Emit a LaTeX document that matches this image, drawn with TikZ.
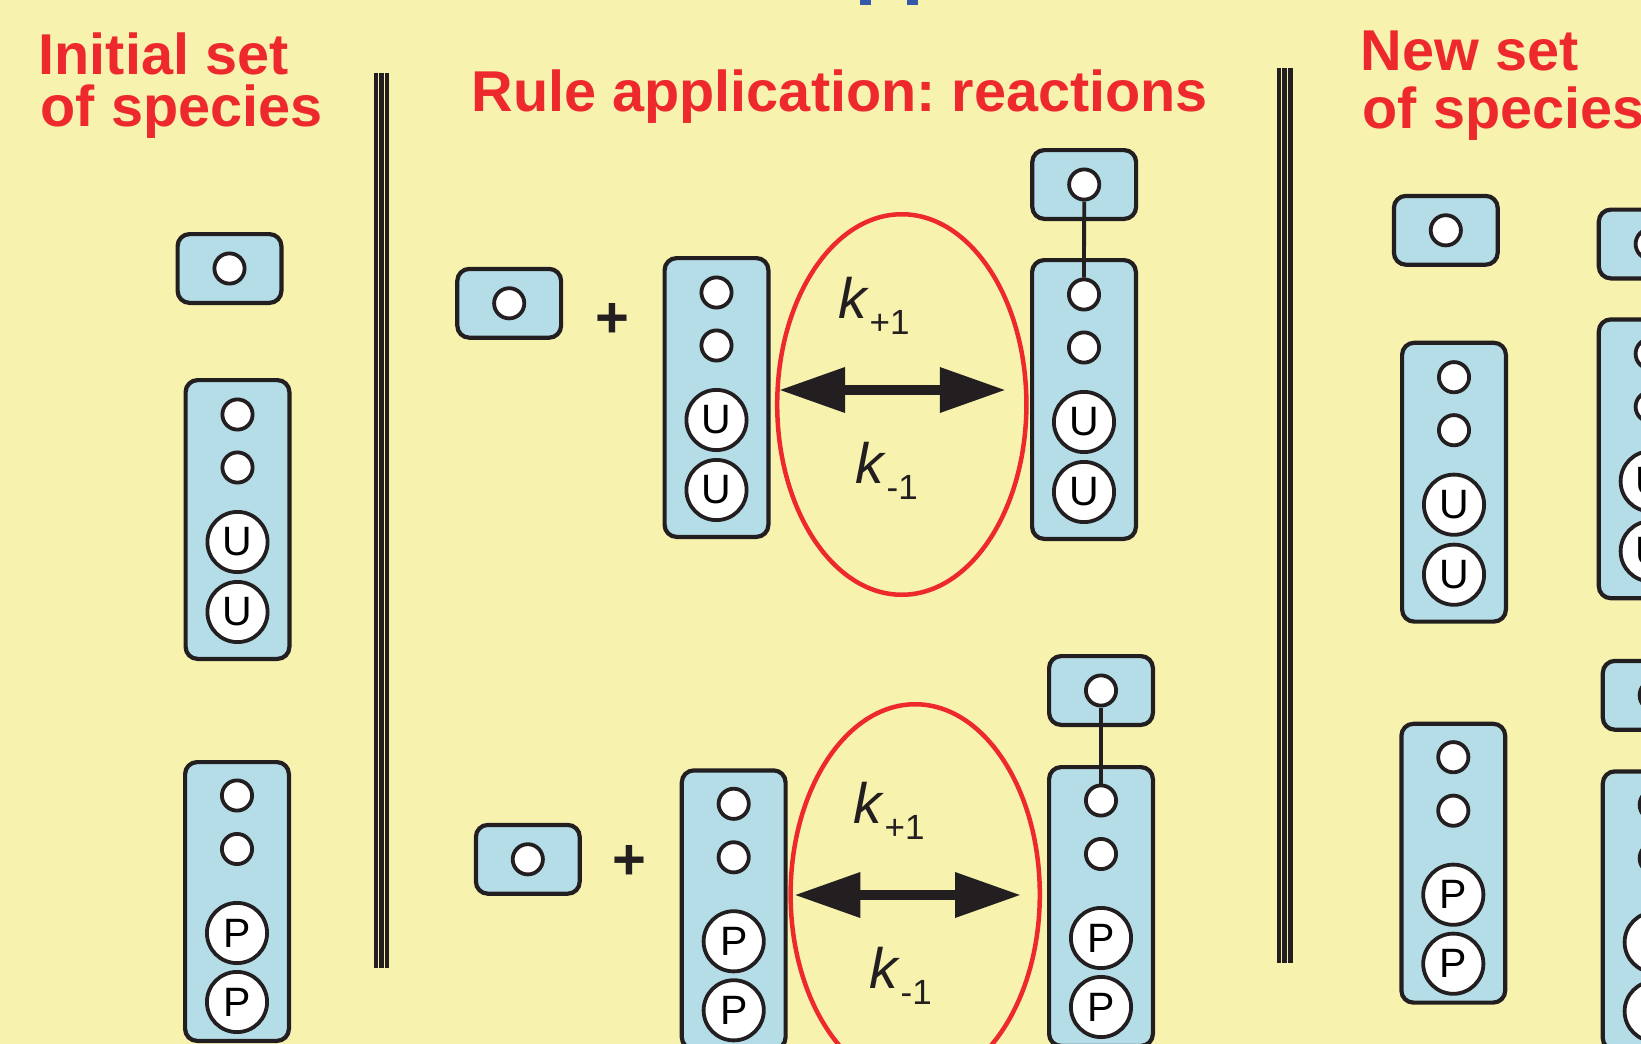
\documentclass[tikz,border=0pt]{standalone}
\usepackage{fontspec}
\setmainfont{Liberation Sans}
\usetikzlibrary{arrows.meta,shapes.geometric,positioning}
\definecolor{bgyellow}{HTML}{F7F2AE}
\definecolor{boxblue}{HTML}{B5DDE8}
\definecolor{titlered}{HTML}{ED292E}
\definecolor{inkblack}{HTML}{231F20}
\definecolor{titleblue}{HTML}{3558A8}
\frenchspacing
\newcommand\rateconst[1]{\textit{k}\raisebox{-16pt}{\fontsize{35}{35}\selectfont #1}}
\tikzset{every picture/.style={line width=3.5pt}}
\tikzset{
  box/.style={draw=inkblack, fill=boxblue, line width=4.2pt, rounded corners=12pt, minimum width=103.8pt, inner sep=0pt},
  smallbox/.style={box, minimum height=68.8pt},
  tallbox/.style={box, minimum height=278.8pt},
  site/.style={circle, draw=inkblack, fill=white, line width=3.8pt, minimum size=30.2pt, inner sep=0pt},
  modsite/.style={site, minimum size=60.2pt, font=\fontsize{41}{41}\selectfont},
  title/.style={titlered, font=\fontsize{57.6}{57.6}\selectfont\bfseries, anchor=base west, inner sep=0pt},
  rate/.style={inkblack, font=\fontsize{57}{57}\selectfont, anchor=base west, inner sep=0pt},
  plus/.style={inkblack, font=\fontsize{58}{58}\selectfont\bfseries, inner sep=0pt},
  loop/.style={ellipse, draw=titlered, line width=4.5pt, minimum width=249.2pt, minimum height=380.5pt, inner sep=0pt},
  bond/.style={draw=inkblack, line width=3.8pt},
  react/.style={draw=inkblack, line width=10pt, {Triangle[length=66pt,width=43pt]}-{Triangle[length=66pt,width=43pt]}}
}

\begin{document}
\begin{tikzpicture}[x=1pt,y=-1pt]
    % 背景
    \useasboundingbox (0,0) rectangle (1641,1044);
    \clip (0,0) rectangle (1641,1044);
    \fill[bgyellow] (0,0) rectangle (1641,1044);
    \fill[titleblue] (860,0) rectangle (870.7,4.7);
    \fill[titleblue] (907.3,0) rectangle (918,4.7);

    % 标题
    \node[title] (lt1) at (37,74) {Initial set};
    \node[title] (lt2) at (39,126) {of species};
    \node[title] (mt) at (470,111) {Rule application: reactions};
    \node[title] (rt1) at (1359,70.7) {New set};
    \node[title] (rt2) at (1361,128.3) {of species};

    % 分隔线
    \foreach \x/\w in {375.5/4, 381.3/5, 387.2/3.5}
        \draw[inkblack, line width=\w pt] (\x,73) -- (\x,968);
    \foreach \x/\w in {1278.8/4.3, 1284.2/5, 1290.5/4.3}
        \draw[inkblack, line width=\w pt] (\x,68) -- (\x,963);

    % 小分子
    \foreach \n/\x/\y in {ls/229.5/268.5, ma/509.2/303.3, mar/1084.2/184.5, mb/527.8/859.3,
                          mbr/1101/690.5, rs/1445.8/230.3, xa/1650.7/244, xb/1654.7/695.3} {
        \node[smallbox] (\n) at (\x,\y) {};
        \node[site] (s\n) at (\x,\y) {};
    }

    % 含 U 的长链
    \foreach \n/\x/\t in {lu/237.5/378, mu/716.5/256, mur/1084/258, ru/1454/340.7, xu/1650.7/317.3} {
        \node[tallbox] (\n) at (\x,\t+141.5) {};
        \node[site] (\n1) at (\x,\t+36.5) {};
        \node[site] (\n2) at (\x,\t+89.5) {};
        \node[modsite] (\n3) at (\x,\t+164) {U};
        \node[modsite] (\n4) at (\x,\t+234) {U};
    }

    % 含 P 的长链
    \foreach \n/\x/\t in {lp/237/760, mp/733.7/768.3, mpr/1101/765, rp/1453.3/721.7, xp/1654.7/769.3} {
        \node[tallbox] (\n) at (\x,\t+141.5) {};
        \node[site] (\n1) at (\x,\t+35.5) {};
        \node[site] (\n2) at (\x,\t+89) {};
        \node[modsite] (\n3) at (\x,\t+173) {P};
        \node[modsite] (\n4) at (\x,\t+242) {P};
    }

    % 结合键
    \draw[bond] (smar) -- (mur1);
    \draw[bond] (smbr) -- (mpr1);

    % 加号
    \node[plus] (p1) at (612,320) {+};
    \node[plus] (p2) at (629.5,862) {+};

    % 反应：椭圆与双向箭头
    \node[loop] (e1) at (901.8,404.5) {};
    \node[loop] (e2) at (915.2,894.5) {};
    \coordinate (r1l) at (779,390);
    \coordinate (r1r) at (1005.8,390);
    \coordinate (r2l) at (794.3,895);
    \coordinate (r2r) at (1021,895);
    \draw[react] (r1l) -- (r1r);
    \draw[react] (r2l) -- (r2r);

    % 速率常数
    \node[rate] (k1f) at (837,318) {\rateconst{+1}};
    \node[rate] (k1b) at (854,483) {\rateconst{-1}};
    \node[rate] (k2f) at (852,823.3) {\rateconst{+1}};
    \node[rate] (k2b) at (868,988.3) {\rateconst{-1}};
\end{tikzpicture}
\end{document}
